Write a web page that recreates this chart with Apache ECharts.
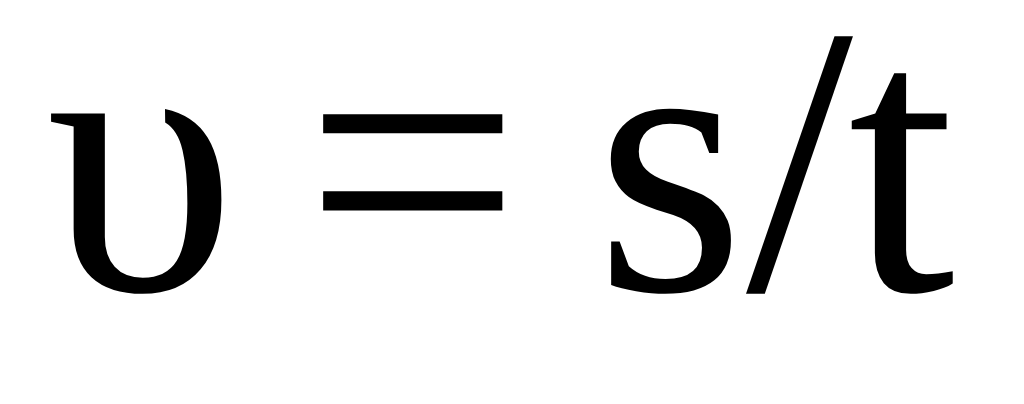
<!DOCTYPE html>
<html lang="en">
<head>
  <meta charset="UTF-8">
  <title>v = s/t</title>
  <style>
    html,body{margin:0;padding:0;background:#fff;}
    #main{width:1024px;height:404px;}
  </style>
</head>
<body>
  <div id="main"></div>
  <script src="https://cdn.jsdelivr.net/npm/echarts@6/dist/echarts.min.js"></script>
  <script>
    const chart=echarts.init(document.querySelector('#main'));

    // the formula, one glyph per entry
    const glyphs=['υ','=','s','/','t'];

    // pen position of each glyph and its vertical middle
    const glyphLeft=[46,304,595,746,848];
    const glyphMid=[189,189,189,189,189];

    const fontSize=385;

    const option={
      backgroundColor:'#fff',
      graphic:glyphs.map((g,i)=>({
        type:'text',
        x:glyphLeft[i],
        y:glyphMid[i],
        style:{
          text:g,
          fill:'#000',
          fontFamily:'serif',
          fontSize:fontSize,
          align:'left',
          verticalAlign:'middle'
        }
      }))
    };
    chart.setOption(option);
  </script>
</body>
</html>
